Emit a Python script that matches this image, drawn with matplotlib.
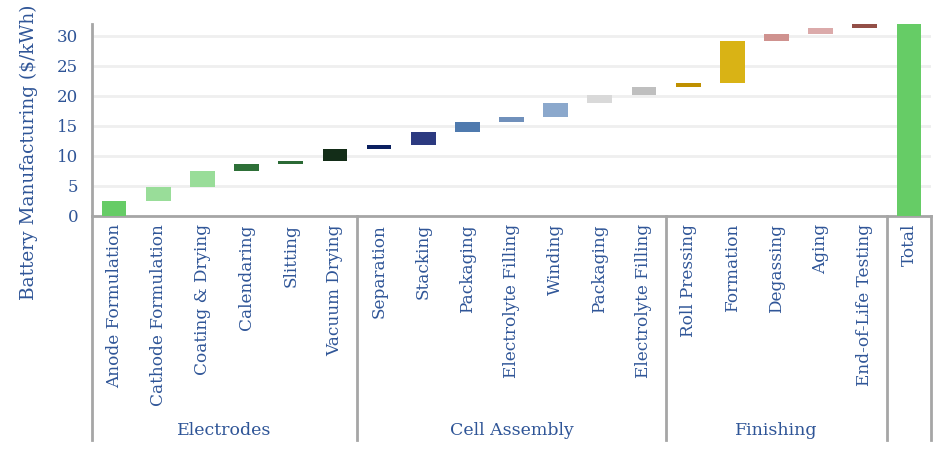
import numpy as np
import matplotlib.pyplot as plt
import matplotlib.transforms as mtransforms

steps = ["Anode Formulation", "Cathode Formulation", "Coating & Drying", "Calendaring",
         "Slitting", "Vacuum Drying",
         "Separation", "Stacking", "Packaging", "Electrolyte Filling", "Winding",
         "Packaging", "Electrolyte Filling",
         "Roll Pressing", "Formation", "Degassing", "Aging", "End-of-Life Testing"]
costs = [2.45, 2.35, 2.65, 1.15, 0.5, 2.0,
         0.65, 2.15, 1.65, 0.85, 2.35, 1.35, 1.35,
         0.65, 7.0, 1.15, 1.0, 0.65]
colors = ["#66CC66", "#99DD99", "#99DD99", "#2E7038", "#2B6A35", "#132D18",
          "#0B2060", "#2C3A80", "#4F7AAE", "#7090BB", "#8BA8CC", "#D9D9D9", "#BFBFBF",
          "#BF9000", "#D9B315", "#CF928F", "#DBAAAA", "#934F47"]
groups = ["Electrodes", "Cell Assembly", "Finishing"]
group_sizes = [6, 7, 5]
total_color = "#66CC66"

txt = "#2F5597"
plt.rcParams['font.family'] = ['DejaVu Serif']

labels = steps + ["Total"]
bottoms = np.concatenate([[0], np.cumsum(costs)[:-1]])
total = sum(costs)
x = np.arange(len(labels))

fig = plt.figure(figsize=(9.45, 4.59), dpi=100)
ax = fig.add_axes([0.0974, 0.530, 0.8878, 0.418])

ax.bar(x[:-1], costs, bottom=bottoms, width=0.56, color=colors, zorder=3)
ax.bar(x[-1], total, width=0.56, color=total_color, zorder=3)

ax.set_xlim(-0.5, len(labels) - 0.5)
ax.set_ylim(0, 32)
ax.set_yticks([0, 5, 10, 15, 20, 25, 30])
ax.yaxis.grid(True, color="#EFEFEF", linewidth=2, zorder=0)
ax.tick_params(axis="y", length=0, colors=txt, labelsize=12, pad=10)
ax.set_ylabel("Battery Manufacturing ($/kWh)", color=txt, fontsize=13.3)
ax.yaxis.set_label_coords(-0.064, 0.33)

ax.set_xticks(x)
ax.set_xticklabels(labels, rotation=90, va="top", ha="center", fontsize=12.2, color=txt)
ax.tick_params(axis="x", length=0, pad=6)

for s in ["top", "right"]:
    ax.spines[s].set_visible(False)
for s in ["left", "bottom"]:
    ax.spines[s].set_color("#A6A6A6")
    ax.spines[s].set_linewidth(2)

# category axis separators
trans = mtransforms.blended_transform_factory(ax.transData, ax.transAxes)
edges = np.concatenate([[0], np.cumsum(group_sizes), [len(labels)]]) - 0.5
for e in edges:
    ax.plot([e, e], [0, -1.17], transform=trans, color="#A6A6A6", lw=2, clip_on=False)
starts = np.concatenate([[0], np.cumsum(group_sizes)[:-1]])
for g, st, n in zip(groups, starts, group_sizes):
    ax.text(st - 0.5 + n / 2, -1.118, g, transform=trans, ha="center", va="center",
            color=txt, fontsize=12.5)

fig.savefig("out.png", dpi=100)
